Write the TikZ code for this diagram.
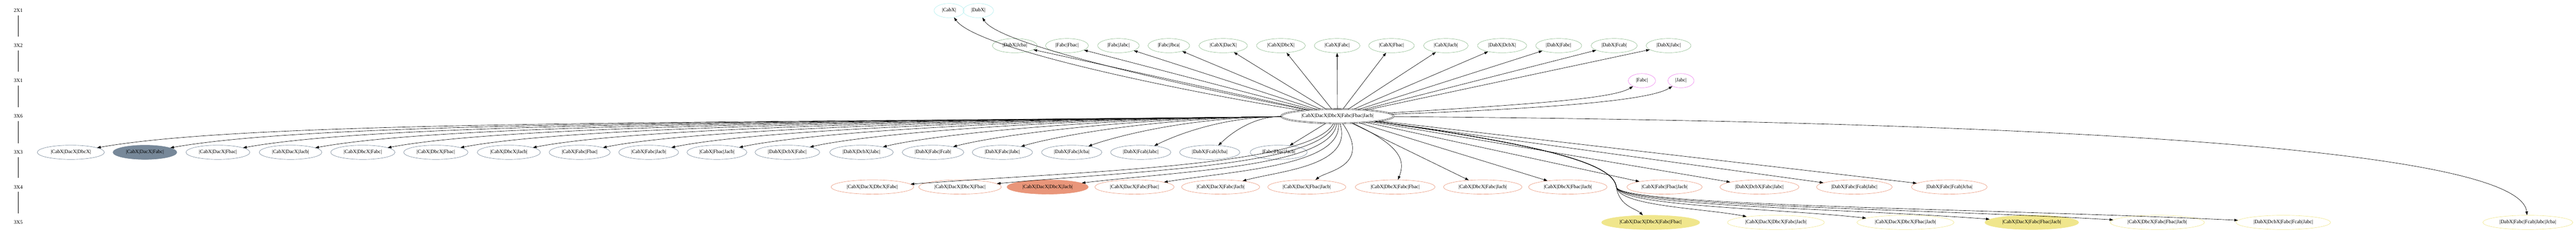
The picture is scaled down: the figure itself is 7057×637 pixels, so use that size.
\documentclass[tikz,border=0pt]{standalone}
\usepackage{fontspec}
\setmainfont{Liberation Serif}
\usetikzlibrary{shapes.geometric,arrows.meta,calc}
\definecolor{cA}{HTML}{AFEEEE}
\definecolor{cB}{HTML}{8FBC8F}
\definecolor{cC}{HTML}{EE82EE}
\definecolor{cD}{HTML}{778899}
\definecolor{cE}{HTML}{E9967A}
\definecolor{cF}{HTML}{F0E68C}
\begin{document}
\begin{tikzpicture}[x=1pt,y=-1pt,font=\fontsize{14}{16}\selectfont,
  nd/.style={ellipse,draw,line width=0.9pt,inner xsep=10pt,inner ysep=2pt,minimum height=39pt},
  rA/.style={nd,draw=cA},
  rB/.style={nd,draw=cB},
  rC/.style={nd,draw=cC},
  rD/.style={nd,draw=cD},
  rE/.style={nd,draw=cE},
  rF/.style={nd,draw=cF},
  cen/.style={nd,draw=black,double,double distance=2pt,line width=0.8pt},
  lab/.style={inner sep=0pt},
  e/.style={line width=0.9pt,-{Triangle[length=10pt,width=7pt]}}]
\useasboundingbox (0,0) rectangle (7057,637);
% rank labels
\node[lab] (L1) at (50,29) {2X1};
\node[lab] (L2) at (50,125) {3X2};
\node[lab] (L3) at (50,221) {3X1};
\node[lab] (L4) at (50,318) {3X6};
\node[lab] (L5) at (50,417) {3X3};
\node[lab] (L6) at (50,512) {3X4};
\node[lab] (L7) at (50,609) {3X5};
\foreach \a/\b in {L1/L2,L2/L3,L3/L4,L4/L5,L5/L6,L6/L7}
  \draw[line width=0.9pt] ($(\a)+(0,13)$) -- ($(\b)+(0,-25)$);
% central
\node[cen] (c) at (3664,318) {|CabX|DacX|DbcX|Fabc|Fbac|Jacb|};
% 2X1
\node[rA] (a1) at (2600,29) {|CabX|};
\node[rA] (a2) at (2680,29) {|DabX|};
% 3X2
\node[rB] (b1) at (2780,125) {|DabX|Jcba|};
\node[rB] (b2) at (2923,125) {|Fabc|Fbac|};
\node[rB] (b3) at (3064,125) {|Fabc|Jabc|};
\node[rB] (b4) at (3202,125) {|Fabc|Jbca|};
\node[rB] (b5) at (3351,125) {|CabX|DacX|};
\node[rB] (b6) at (3509,125) {|CabX|DbcX|};
\node[rB] (b7) at (3663,125) {|CabX|Fabc|};
\node[rB] (b8) at (3812,125) {|CabX|Fbac|};
\node[rB] (b9) at (3961,125) {|CabX|Jacb|};
\node[rB] (b10) at (4115,125) {|DabX|DcbX|};
\node[rB] (b11) at (4270,125) {|DabX|Fabc|};
\node[rB] (b12) at (4422,125) {|DabX|Fcab|};
\node[rB] (b13) at (4571,125) {|DabX|Jabc|};
% 3X1
\node[rC] (f1) at (4498,221) {|Fabc|};
\node[rC] (f2) at (4605,221) {|Jabc|};
% 3X3
\node[rD] (d1) at (194,417) {|CabX|DacX|DbcX|};
\node[rD,fill=cD] (d2) at (397,417) {|CabX|DacX|Fabc|};
\node[rD] (d3) at (597,417) {|CabX|DacX|Fbac|};
\node[rD] (d4) at (796,417) {|CabX|DacX|Jacb|};
\node[rD] (d5) at (994,417) {|CabX|DbcX|Fabc|};
\node[rD] (d6) at (1194,417) {|CabX|DbcX|Fbac|};
\node[rD] (d7) at (1394,417) {|CabX|DbcX|Jacb|};
\node[rD] (d8) at (1588,417) {|CabX|Fabc|Fbac|};
\node[rD] (d9) at (1777,417) {|CabX|Fabc|Jacb|};
\node[rD] (d10) at (1964,417) {|CabX|Fbac|Jacb|};
\node[rD] (d11) at (2157,417) {|DabX|DcbX|Fabc|};
\node[rD] (d12) at (2360,417) {|DabX|DcbX|Jabc|};
\node[rD] (d13) at (2556,417) {|DabX|Fabc|Fcab|};
\node[rD] (d14) at (2746,417) {|DabX|Fabc|Jabc|};
\node[rD] (d15) at (2936,417) {|DabX|Fabc|Jcba|};
\node[rD] (d16) at (3125,417) {|DabX|Fcab|Jabc|};
\node[rD] (d17) at (3314,417) {|DabX|Fcab|Jcba|};
\node[rD] (d18) at (3503,417) {|Fabc|Fbac|Jacb|};
% 3X4
\node[rE] (g1) at (2390,512) {|CabX|DacX|DbcX|Fabc|};
\node[rE] (g2) at (2630,512) {|CabX|DacX|DbcX|Fbac|};
\node[rE,fill=cE] (g3) at (2870,512) {|CabX|DacX|DbcX|Jacb|};
\node[rE] (g4) at (3108,512) {|CabX|DacX|Fabc|Fbac|};
\node[rE] (g5) at (3344,512) {|CabX|DacX|Fabc|Jacb|};
\node[rE] (g6) at (3580,512) {|CabX|DacX|Fbac|Jacb|};
\node[rE] (g7) at (3822,512) {|CabX|DbcX|Fabc|Fbac|};
\node[rE] (g8) at (4062,512) {|CabX|DbcX|Fabc|Jacb|};
\node[rE] (g9) at (4295,512) {|CabX|DbcX|Fbac|Jacb|};
\node[rE] (g10) at (4560,512) {|CabX|Fabc|Fbac|Jacb|};
\node[rE] (g11) at (4820,512) {|DabX|DcbX|Fabc|Jabc|};
\node[rE] (g12) at (5080,512) {|DabX|Fabc|Fcab|Jabc|};
\node[rE] (g13) at (5340,512) {|DabX|Fabc|Fcab|Jcba|};
% 3X5
\node[rF,fill=cF] (h1) at (4522,609) {|CabX|DacX|DbcX|Fabc|Fbac|};
\node[rF] (h2) at (4865,609) {|CabX|DacX|DbcX|Fabc|Jacb|};
\node[rF] (h3) at (5220,609) {|CabX|DacX|DbcX|Fbac|Jacb|};
\node[rF,fill=cF] (h4) at (5566,609) {|CabX|DacX|Fabc|Fbac|Jacb|};
\node[rF] (h5) at (5910,609) {|CabX|DbcX|Fabc|Fbac|Jacb|};
\node[rF] (h6) at (6255,609) {|DabX|DcbX|Fabc|Fcab|Jabc|};
\node[rF] (h7) at (6925,609) {|DabX|Fabc|Fcab|Jabc|Jcba|};
% edges to 2X1
\draw[e] (c) .. controls (3300,260) and (2680,140) .. (a1);
\draw[e] (c) .. controls (3350,255) and (2740,130) .. (a2);
% edges to 3X2
\foreach \t in {b1,b2,b3,b4,b5,b6,b7,b8,b9,b10,b11,b12,b13}
  \draw[e] (c) -- (\t);
% edges to 3X1
\draw[e] (c) .. controls (4200,285) and (4420,270) .. (f1);
\draw[e] (c) .. controls (4250,297) and (4520,275) .. (f2);
% edges to 3X3
\foreach \t/\x in {d1/194,d2/397,d3/597,d4/796,d5/994,d6/1194,d7/1394,d8/1588,d9/1777,d10/1964,d11/2157,d12/2360,d13/2556,d14/2746,d15/2936,d16/3125,d17/3314}{
  \pgfmathsetmacro\dx{3509-\x}
  \draw[e] (c) .. controls ($(c.west)+(-0.5*\dx,0.006*\dx)$) and ($(\t)+(0.15*\dx,-0.02*\dx-20)$) .. (\t);
}
\draw[e] (c) -- (d18);
% edges to 3X4 (left part, curving under the centre)
\foreach \t/\x/\s in {g1/2390/3590,g2/2630/3620,g3/2870/3650,g4/3108/3680,g5/3344/3710,g6/3580/3760}{
  \pgfmathsetmacro\px{\x+0.45*(3700-\x)}
  \draw[e] (c) .. controls (\s,455) and (\px,468) .. (\t);
}
\draw[e] (c) .. controls (3840,400) and (3850,440) .. (g7);
\foreach \t in {g8,g9,g10,g11,g12,g13}
  \draw[e] (c) -- (\t);
% edges to 3X5
\coordinate (gap) at (4428,512);
\foreach \t/\x in {h1/4522,h2/4865,h3/5220,h4/5566,h5/5910,h6/6255}{
  \pgfmathsetmacro\qx{\x-0.45*(\x-4428)}
  \draw[e] (c) .. controls (4250,400) and (4420,450) .. (gap) .. controls (4436,565) and (\qx,570) .. (\t);
}
\draw[e] (c) .. controls (5200,330) and (6900,380) .. (h7);
\end{tikzpicture}
\end{document}
